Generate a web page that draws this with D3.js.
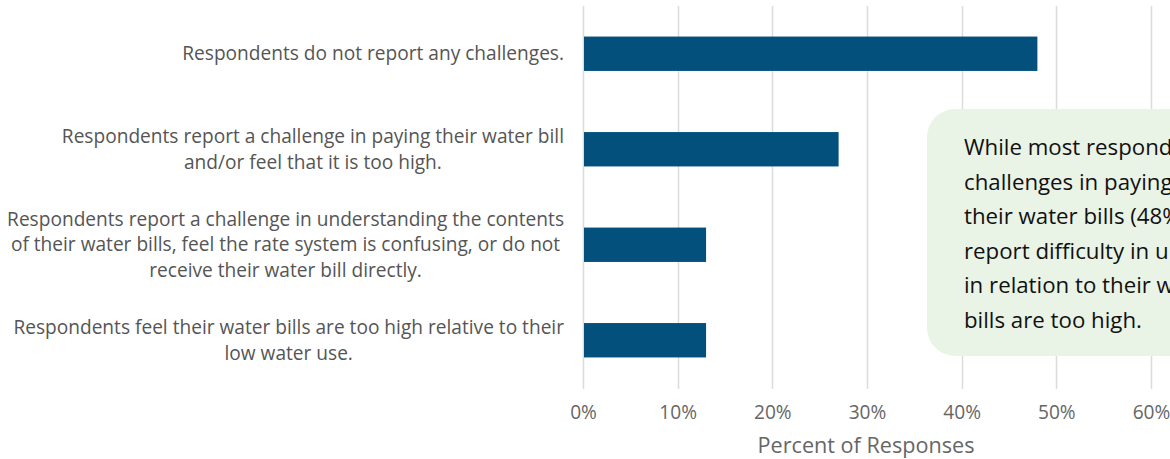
<!DOCTYPE html>
<html>
<head>
<meta charset="utf-8">
<script src="https://cdn.jsdelivr.net/npm/d3@7"></script>
<style>
  html, body { margin: 0; padding: 0; background: #fff; overflow: hidden; }
  svg { display: block; }
</style>
</head>
<body>
<svg id="chart" width="1170" height="459"></svg>
<script>
const categories = [
  ["Respondents do not report any challenges."],
  ["Respondents report a challenge in paying their water bill", "and/or feel that it is too high."],
  ["Respondents report a challenge in understanding the contents", "of their water bills, feel the rate system is confusing, or do not", "receive their water bill directly."],
  ["Respondents feel their water bills are too high relative to their", "low water use."]
];
const values = [0.48, 0.27, 0.13, 0.13];
const tickValues = [0, 0.1, 0.2, 0.3, 0.4, 0.5, 0.6];
const axisTitle = "Percent of Responses";
const noteLines = [
  "While most respondents do not report",
  "challenges in paying or understanding",
  "their water bills (48%), many others",
  "report difficulty in understanding or",
  "in relation to their water use, feel their",
  "bills are too high."
];

const FONT = "'Open Sans', Lato, sans-serif";
const svg = d3.select("#chart");

// choose a font size so that a sample string matches a target width
function fitSize(str, target, weight) {
  const t = svg.append("text").attr("font-family", FONT).attr("font-size", 100)
    .attr("font-weight", weight || 400).text(str);
  const w = t.node().getComputedTextLength();
  t.remove();
  return 100 * target / w;
}
const labelSize = fitSize(categories[0][0], 382);
const noteSize = fitSize(noteLines[5], 178);
const titleSize = fitSize(axisTitle, 217);
const tickSize = labelSize;

const x = d3.scaleLinear().domain([0, 0.6]).range([583, 1151]);
const y = d3.scaleBand().domain(d3.range(categories.length)).range([6, 388]).paddingInner(0.64).paddingOuter(0.32);

// gridlines
svg.append("g")
  .selectAll("line")
  .data(tickValues)
  .join("line")
  .attr("x1", d => Math.round(x(d)) + 0.5)
  .attr("x2", d => Math.round(x(d)) + 0.5)
  .attr("y1", 6)
  .attr("y2", 389)
  .attr("stroke", "#dcdcdc")
  .attr("stroke-width", 1.5);

// bars
svg.append("g")
  .selectAll("rect")
  .data(values)
  .join("rect")
  .attr("x", x(0) + 1)
  .attr("y", (d, i) => y(i))
  .attr("width", d => x(d) - x(0) - 1)
  .attr("height", y.bandwidth())
  .attr("fill", "#03507d");

// x axis tick labels
const xAxis = d3.axisBottom(x).tickValues(tickValues).tickFormat(d3.format(".0%")).tickSize(0).tickPadding(0);
const gx = svg.append("g").attr("transform", "translate(0,405)").call(xAxis);
gx.select(".domain").remove();
gx.selectAll("text")
  .attr("font-family", FONT)
  .attr("font-size", tickSize)
  .attr("fill", "#666")
  .attr("dy", "0.75em");

// axis title
svg.append("text")
  .attr("x", 866)
  .attr("y", 453)
  .attr("text-anchor", "middle")
  .attr("font-family", FONT)
  .attr("font-size", titleSize)
  .attr("fill", "#666")
  .text(axisTitle);

// category labels (centered block, right edge at 564)
const lineH = 25.5;
const labelG = svg.append("g");
categories.forEach((lines, i) => {
  const t = labelG.append("text")
    .attr("font-family", FONT)
    .attr("font-size", labelSize)
    .attr("fill", "#555")
    .attr("text-anchor", "middle");
  const cy = y(i) + y.bandwidth() / 2;
  const startY = cy - (lines.length - 1) * lineH / 2;
  lines.forEach((ln, j) => {
    t.append("tspan")
      .attr("x", 0)
      .attr("y", startY + j * lineH)
      .attr("dy", "0.35em")
      .text(ln);
  });
  let maxW = 0;
  t.selectAll("tspan").each(function() { maxW = Math.max(maxW, this.getComputedTextLength()); });
  t.selectAll("tspan").attr("x", 564 - maxW / 2);
});

// annotation box
svg.append("rect")
  .attr("x", 927)
  .attr("y", 109)
  .attr("width", 400)
  .attr("height", 247)
  .attr("rx", 28)
  .attr("fill", "#eaf4e6");

const note = svg.append("text")
  .attr("font-family", FONT)
  .attr("font-size", noteSize)
  .attr("fill", "#111");
noteLines.forEach((ln, j) => {
  note.append("tspan").attr("x", 964).attr("y", 155 + j * 34.5).text(ln);
});
</script>
</body>
</html>
